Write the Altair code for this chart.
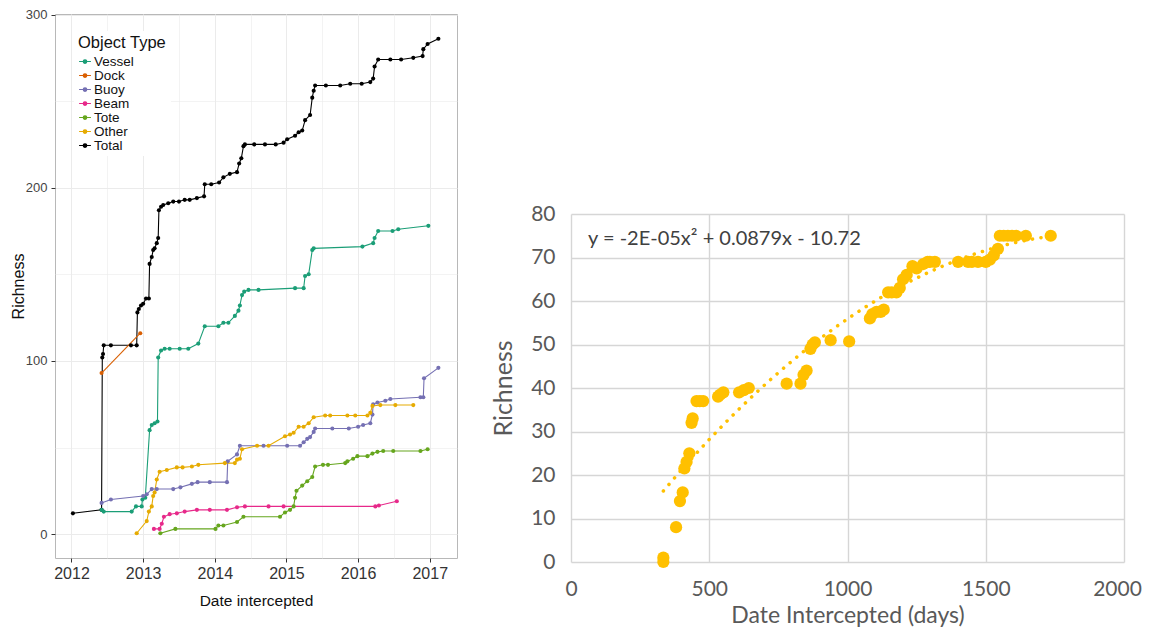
import altair as alt
import pandas as pd

# ---------------- left panel: richness by object type ----------------
total_year = [2012.02, 2012.42, 2012.43, 2012.44, 2012.45, 2012.55, 2012.83, 2012.91, 2012.92, 2012.94,
              2012.97, 2013.00, 2013.04, 2013.08, 2013.09, 2013.12, 2013.14, 2013.16, 2013.19, 2013.21,
              2013.22, 2013.25, 2013.28, 2013.35, 2013.42, 2013.50, 2013.58, 2013.65, 2013.75, 2013.85,
              2013.86, 2013.95, 2014.06, 2014.12, 2014.21, 2014.31, 2014.34, 2014.37, 2014.40, 2014.42,
              2014.55, 2014.70, 2014.85, 2014.96, 2015.01, 2015.12, 2015.17, 2015.22, 2015.26, 2015.33,
              2015.36, 2015.38, 2015.40, 2015.55, 2015.75, 2015.89, 2016.05, 2016.17, 2016.21, 2016.23,
              2016.28, 2016.45, 2016.60, 2016.77, 2016.90, 2016.91, 2016.97, 2017.12]
total_val = [12, 14, 102, 104, 109, 109, 109, 109, 128, 130,
             132, 133, 136, 136, 156, 160, 164, 165, 168, 171,
             187, 189, 190, 191, 192, 192, 193, 193, 194, 195,
             202, 202, 203, 206, 208, 209, 214, 217, 224, 225,
             225, 225, 225, 226, 228, 230, 232, 233, 239, 242,
             252, 256, 259, 259, 259, 260, 260, 261, 263, 270,
             274, 274, 274, 275, 276, 280, 283, 286]

vessel_year = [2012.42, 2012.45, 2012.84, 2012.90, 2012.98, 2012.99, 2013.03, 2013.09, 2013.12, 2013.16,
               2013.20, 2013.21, 2013.25, 2013.30, 2013.37, 2013.51, 2013.63, 2013.77, 2013.86, 2014.05,
               2014.12, 2014.19, 2014.28, 2014.33, 2014.35, 2014.38, 2014.41, 2014.47, 2014.61, 2015.12,
               2015.24, 2015.26, 2015.31, 2015.36, 2015.38, 2016.06, 2016.21, 2016.23, 2016.28, 2016.48,
               2016.56, 2016.98]
vessel_val = [14, 13, 13, 16, 16, 20, 21, 60, 63, 64,
              65, 102, 106, 107, 107, 107, 107, 110, 120, 120,
              122, 122, 126, 129, 132, 138, 140, 141, 141, 142,
              142, 149, 150, 164, 165, 166, 168, 171, 175, 175,
              176, 178]

dock_year = [2012.42, 2012.96]
dock_val = [93, 116]

buoy_year = [2012.42, 2012.55, 2013.00, 2013.05, 2013.12, 2013.19, 2013.42, 2013.52, 2013.68, 2013.76,
             2013.93, 2014.17, 2014.18, 2014.31, 2014.35, 2014.68, 2015.01, 2015.19, 2015.24, 2015.29,
             2015.33, 2015.38, 2015.40, 2015.64, 2015.87, 2016.00, 2016.07, 2016.17, 2016.20, 2016.21,
             2016.27, 2016.38, 2016.45, 2016.87, 2016.91, 2016.92, 2017.12]
buoy_val = [18, 20, 22, 23, 26, 26, 26, 27, 29, 30,
            30, 30, 42, 46, 51, 51, 51, 51, 53, 55,
            56, 59, 61, 61, 61, 62, 63, 64, 69, 75,
            76, 77, 78, 79, 79, 90, 96]

beam_year = [2013.15, 2013.23, 2013.26, 2013.29, 2013.37, 2013.47, 2013.58, 2013.75, 2013.93, 2014.17,
             2014.31, 2014.42, 2014.75, 2014.96, 2016.24, 2016.29, 2016.54]
beam_val = [3, 3, 6, 10, 11.5, 12, 13, 14, 14, 14,
            15.5, 16, 16, 16, 16, 16.5, 19]

tote_year = [2013.24, 2013.45, 2014.01, 2014.05, 2014.12, 2014.31, 2014.40, 2014.91, 2014.98, 2015.05,
             2015.10, 2015.12, 2015.14, 2015.22, 2015.29, 2015.36, 2015.40, 2015.51, 2015.58, 2015.82,
             2015.85, 2015.93, 2015.99, 2016.13, 2016.20, 2016.27, 2016.35, 2016.49, 2016.87, 2016.97]
tote_val = [0.5, 3, 3, 5, 5, 7, 10, 10, 12.5, 14,
            16, 21, 25, 28, 30.5, 33, 39, 40, 40, 41,
            42, 43.5, 45, 45, 46.5, 47.5, 48, 48, 48, 49]

other_year = [2012.91, 2013.05, 2013.08, 2013.12, 2013.14, 2013.16, 2013.19, 2013.23, 2013.33, 2013.47,
              2013.55, 2013.68, 2013.77, 2014.14, 2014.28, 2014.31, 2014.35, 2014.38, 2014.59, 2014.75,
              2014.98, 2015.05, 2015.10, 2015.17, 2015.24, 2015.31, 2015.38, 2015.54, 2015.61, 2015.85,
              2015.96, 2016.13, 2016.17, 2016.20, 2016.31, 2016.52, 2016.77]
other_val = [0.5, 7.5, 13, 16, 22, 24, 31.5, 36, 37, 38.5,
             38.5, 39, 40, 41, 41, 43, 43.5, 49, 51, 51,
             56.5, 57.5, 58.5, 62, 62, 64, 67.5, 68.5, 68.5, 68.5,
             68.5, 68.5, 70, 74, 74.5, 74.5, 74.5]

type_order = ["Vessel", "Dock", "Buoy", "Beam", "Tote", "Other", "Total"]
type_colors = ["#1b9e77", "#d95f02", "#7570b3", "#e7298a", "#66a61e", "#e6ab02", "#000000"]

year_ticks = [2012, 2012.5, 2013, 2013.5, 2014, 2014.5, 2015, 2015.5, 2016, 2016.5, 2017]
rich_ticks = [0, 50, 100, 150, 200, 250, 300]

series = [("Total", total_year, total_val), ("Vessel", vessel_year, vessel_val),
          ("Dock", dock_year, dock_val), ("Buoy", buoy_year, buoy_val),
          ("Beam", beam_year, beam_val), ("Tote", tote_year, tote_val),
          ("Other", other_year, other_val)]
rows = []
for name, xs, ys in series:
    for i, (xv, yv) in enumerate(zip(xs, ys)):
        rows.append({"type": name, "year": xv, "richness": yv, "i": i})
left_df = pd.DataFrame(rows)

# ---------------- right panel: richness vs days ----------------
days = [334, 334, 380, 394, 404, 410, 418, 428, 436, 440,
        454, 466, 478, 532, 540, 551, 608, 625, 643, 780,
        830, 841, 852, 866, 874, 882, 939, 1006, 1081, 1090,
        1105, 1120, 1131, 1147, 1160, 1177, 1189, 1201, 1214, 1235,
        1250, 1274, 1290, 1298, 1316, 1400, 1436, 1450, 1472, 1500,
        1515, 1529, 1544, 1551, 1565, 1580, 1595, 1610, 1645, 1735]
richness = [0, 1, 8, 14, 16, 21.5, 23, 25, 32, 33,
            37, 37, 37, 38, 38.5, 39, 39, 39.5, 40, 41,
            41, 43, 44, 49, 50, 50.5, 51, 50.7, 56, 57,
            57.5, 57.5, 58, 62, 62, 62, 63, 65, 66, 68,
            67.5, 68.5, 69, 69, 69, 69, 69, 69, 69, 69,
            69.5, 70.5, 72, 75, 75, 75, 75, 75, 75, 75]
right_df = pd.DataFrame({"days": days, "richness": richness})

eq_text = ["y = -2E-05x\u00b2 + 0.0879x - 10.72"]
days_ticks = [0, 500, 1000, 1500, 2000]
right_ticks = [0, 10, 20, 30, 40, 50, 60, 70, 80]

# ---------------- left chart ----------------
LF = "Liberation Sans"
half_test = "datum.value % 1 !== 0"

x_left = alt.X(
    "year:Q",
    scale=alt.Scale(domain=[2011.77, 2017.38], nice=False, zero=False),
    axis=alt.Axis(
        values=year_ticks,
        labelExpr="datum.value % 1 === 0 ? format(datum.value, 'd') : ''",
        labelOverlap=False, labelFlush=False,
        title="Date intercepted",
        grid=True, gridColor="#ebebeb",
        gridWidth={"condition": {"test": half_test, "value": 0.6}, "value": 1},
        tickOpacity={"condition": {"test": half_test, "value": 0}, "value": 1},
        domain=False, tickColor="#333333", tickSize=4, tickWidth=1,
        labelFont=LF, labelFontSize=16, labelColor="#333333", labelPadding=3,
        titleFont=LF, titleFontSize=15.5, titleFontWeight="normal", titleColor="#111111",
        titlePadding=12,
    ),
)
y_test = "datum.value % 100 !== 0"
y_left = alt.Y(
    "richness:Q",
    scale=alt.Scale(domain=[-13.8, 300.3], nice=False, zero=False),
    axis=alt.Axis(
        values=rich_ticks,
        labelExpr="datum.value % 100 === 0 ? datum.label : ''",
        labelOverlap=False, labelFlush=False,
        title="Richness",
        grid=True, gridColor="#ebebeb",
        gridWidth={"condition": {"test": y_test, "value": 0.6}, "value": 1},
        tickOpacity={"condition": {"test": y_test, "value": 0}, "value": 1},
        domain=False, tickColor="#333333", tickSize=4, tickWidth=1,
        labelFont=LF, labelFontSize=13, labelColor="#444444", labelPadding=4,
        titleFont=LF, titleFontSize=16, titleFontWeight="normal", titleColor="#111111",
        titlePadding=-1.5,
    ),
)
legend = alt.Legend(
    title="Object Type", orient="none", legendX=19, legendY=17,
    titleFont=LF, titleFontSize=16.5, titleFontWeight="normal", titleColor="#111111",
    titlePadding=3,
    labelFont=LF, labelFontSize=13.5, labelColor="#111111", labelOffset=2,
    symbolType="M-1,0H1M-0.3,0A0.3,0.3,0,1,1,0.3,0A0.3,0.3,0,1,1,-0.3,0Z",
    symbolSize=140, symbolStrokeWidth=1.2, rowPadding=-1.5,
    fillColor="white", padding=4,
)
color_left = alt.Color("type:N", scale=alt.Scale(domain=type_order, range=type_colors), legend=legend,
                       sort=type_order)

base_left = alt.Chart(left_df).encode(x=x_left, y=y_left, color=color_left)
lines_left = base_left.mark_line(strokeWidth=1.1).encode(order="i:Q", detail="type:N")
points_left = base_left.mark_circle(size=17, opacity=1)
left = alt.layer(lines_left, points_left).properties(
    width=402, height=544,
    view=alt.ViewBackground(stroke="#b8b8b8", strokeWidth=1, fill="white"),
)

# ---------------- right chart ----------------
RF = "Lato"
x_right = alt.X(
    "days:Q",
    scale=alt.Scale(domain=[0, 2000], nice=False),
    axis=alt.Axis(
        values=days_ticks, format="d", title="Date Intercepted (days)",
        grid=True, gridColor="#d6d6d6", gridWidth=1.4,
        ticks=False, domain=False, labelFlush=False,
        labelOffset={"condition": {"test": "datum.value >= 2000", "value": -7}, "value": 0},
        labelFont=RF, labelFontSize=21, labelColor="#595959", labelPadding=16.5,
        titleFont=RF, titleFontSize=23, titleFontWeight="normal", titleColor="#595959",
        titlePadding=5,
    ),
)
y_right = alt.Y(
    "richness:Q",
    scale=alt.Scale(domain=[0, 80], nice=False),
    axis=alt.Axis(
        values=right_ticks, title="Richness",
        grid=True, gridColor="#d6d6d6", gridWidth=1.4,
        ticks=False, domain=False, labelFlush=False,
        labelFont=RF, labelFontSize=21, labelColor="#595959", labelPadding=16,
        titleFont=RF, titleFontSize=25, titleFontWeight="normal", titleColor="#595959",
        titlePadding=14,
    ),
)
pts_right = alt.Chart(right_df).mark_circle(size=150, color="#FFC000", opacity=1).encode(x=x_right, y=y_right)
trend = (
    alt.Chart(right_df)
    .transform_regression("days", "richness", method="poly", order=2)
    .mark_line(color="#FFC000", strokeWidth=3.5, strokeDash=[0.1, 8.5], strokeCap="round")
    .encode(x="days:Q", y="richness:Q")
)
eq = (
    alt.Chart(pd.DataFrame({"t": eq_text}))
    .mark_text(align="left", baseline="middle", font=RF, fontSize=20, color="#404040")
    .encode(x=alt.value(17), y=alt.value(25), text="t:N")
)
right = alt.layer(pts_right, trend, eq).properties(
    width=553, height=348,
    view=alt.ViewBackground(stroke="transparent"),
)

spacer = (
    alt.Chart(pd.DataFrame({"a": [0]}))
    .mark_point(opacity=0)
    .encode(x=alt.value(0), y=alt.value(0))
    .properties(width=1, height=187, view=alt.ViewBackground(stroke="transparent"))
)

chart = alt.hconcat(left, alt.vconcat(spacer, right, spacing=0), spacing=33).properties(
    padding={"left": 2, "top": 0, "right": 0, "bottom": 0}
)

chart.save("out.html", embed_options={"renderer": "svg", "actions": False})
